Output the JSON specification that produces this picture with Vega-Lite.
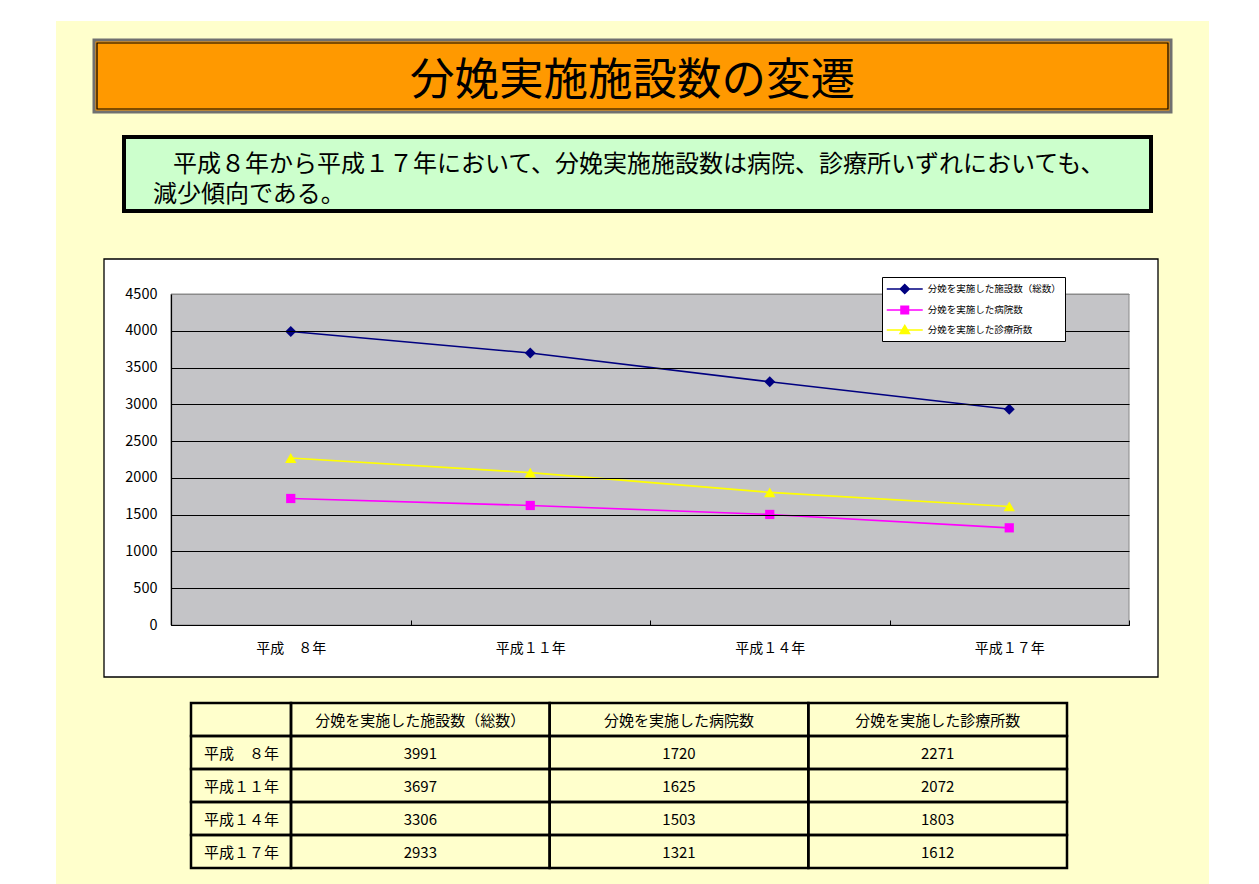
{
  "$schema": "https://vega.github.io/schema/vega-lite/v6.json",
  "width": 1259,
  "height": 884,
  "autosize": {"type": "none"},
  "padding": 0,
  "background": "#FFFFFF",
  "config": {"view": {"stroke": null}, "font": "Noto Sans CJK JP"},
  "datasets": {
    "births": [
      {"年": "平成　８年", "分娩を実施した施設数（総数）": 3991, "分娩を実施した病院数": 1720, "分娩を実施した診療所数": 2271},
      {"年": "平成１１年", "分娩を実施した施設数（総数）": 3697, "分娩を実施した病院数": 1625, "分娩を実施した診療所数": 2072},
      {"年": "平成１４年", "分娩を実施した施設数（総数）": 3306, "分娩を実施した病院数": 1503, "分娩を実施した診療所数": 1803},
      {"年": "平成１７年", "分娩を実施した施設数（総数）": 2933, "分娩を実施した病院数": 1321, "分娩を実施した診療所数": 1612}
    ]
  },
  "resolve": {"scale": {"x": "independent", "y": "independent"}, "axis": {"x": "independent", "y": "independent"}},
  "layer": [
    {
      "data": {"values": [{}]},
      "mark": {"type": "rect", "fill": "#FFFFCC"},
      "encoding": {
        "x": {"datum": 0, "type": "quantitative", "scale": {"domain": [0, 1], "range": [56, 1209], "nice": false, "zero": false}, "axis": null},
        "x2": {"datum": 1},
        "y": {"datum": 0, "type": "quantitative", "scale": {"domain": [0, 1], "range": [21, 884], "nice": false, "zero": false}, "axis": null},
        "y2": {"datum": 1}
      }
    },
    {
      "data": {"values": [{}]},
      "mark": {"type": "rect", "fill": "#FF9900", "stroke": "#707070", "strokeWidth": 3},
      "encoding": {
        "x": {"datum": 0, "type": "quantitative", "scale": {"domain": [0, 1], "range": [94, 1171], "nice": false, "zero": false}, "axis": null},
        "x2": {"datum": 1},
        "y": {"datum": 0, "type": "quantitative", "scale": {"domain": [0, 1], "range": [40, 112], "nice": false, "zero": false}, "axis": null},
        "y2": {"datum": 1}
      }
    },
    {
      "data": {"values": [{}]},
      "mark": {"type": "rect", "fillOpacity": 0, "stroke": "#000000", "strokeWidth": 1.2},
      "encoding": {
        "x": {"datum": 0, "type": "quantitative", "scale": {"domain": [0, 1], "range": [97, 1168], "nice": false, "zero": false}, "axis": null},
        "x2": {"datum": 1},
        "y": {"datum": 0, "type": "quantitative", "scale": {"domain": [0, 1], "range": [43, 109], "nice": false, "zero": false}, "axis": null},
        "y2": {"datum": 1}
      }
    },
    {
      "data": {"values": [{}]},
      "mark": {"type": "text", "text": "分娩実施施設数の変遷", "fontSize": 44.5, "align": "center", "baseline": "middle", "color": "#000000", "dy": 6},
      "encoding": {
        "x": {"datum": 0.5, "type": "quantitative", "scale": {"domain": [0, 1], "range": [93, 1172], "nice": false, "zero": false}, "axis": null},
        "y": {"datum": 0.5, "type": "quantitative", "scale": {"domain": [0, 1], "range": [39, 113], "nice": false, "zero": false}, "axis": null}
      }
    },
    {
      "data": {"values": [{}]},
      "mark": {"type": "rect", "fill": "#CCFFCC", "stroke": "#000000", "strokeWidth": 4},
      "encoding": {
        "x": {"datum": 0, "type": "quantitative", "scale": {"domain": [0, 1], "range": [124, 1151], "nice": false, "zero": false}, "axis": null},
        "x2": {"datum": 1},
        "y": {"datum": 0, "type": "quantitative", "scale": {"domain": [0, 1], "range": [137, 211], "nice": false, "zero": false}, "axis": null},
        "y2": {"datum": 1}
      }
    },
    {
      "data": {"values": [{}]},
      "mark": {"type": "text", "text": "平成８年から平成１７年において、分娩実施施設数は病院、診療所いずれにおいても、", "fontSize": 24, "align": "left", "baseline": "middle", "color": "#000000"},
      "encoding": {
        "x": {"datum": 0, "type": "quantitative", "scale": {"domain": [0, 1], "range": [173, 1151], "nice": false, "zero": false}, "axis": null},
        "y": {"datum": 0, "type": "quantitative", "scale": {"domain": [0, 1], "range": [165, 211], "nice": false, "zero": false}, "axis": null}
      }
    },
    {
      "data": {"values": [{}]},
      "mark": {"type": "text", "text": "減少傾向である。", "fontSize": 24, "align": "left", "baseline": "middle", "color": "#000000"},
      "encoding": {
        "x": {"datum": 0, "type": "quantitative", "scale": {"domain": [0, 1], "range": [153, 1151], "nice": false, "zero": false}, "axis": null},
        "y": {"datum": 0, "type": "quantitative", "scale": {"domain": [0, 1], "range": [195, 211], "nice": false, "zero": false}, "axis": null}
      }
    },
    {
      "data": {"values": [{}]},
      "mark": {"type": "rect", "fill": "#FFFFFF", "stroke": "#000000", "strokeWidth": 1.3},
      "encoding": {
        "x": {"datum": 0, "type": "quantitative", "scale": {"domain": [0, 1], "range": [104, 1158], "nice": false, "zero": false}, "axis": null},
        "x2": {"datum": 1},
        "y": {"datum": 0, "type": "quantitative", "scale": {"domain": [0, 1], "range": [259, 677], "nice": false, "zero": false}, "axis": null},
        "y2": {"datum": 1}
      }
    },
    {
      "data": {"values": [{}]},
      "mark": {"type": "rect", "fill": "#C4C4C7", "stroke": "#8A8A8A", "strokeWidth": 1},
      "encoding": {
        "x": {"datum": 0, "type": "quantitative", "scale": {"domain": [0, 1], "range": [171, 1129], "nice": false, "zero": false}, "axis": null},
        "x2": {"datum": 1},
        "y": {"datum": 0, "type": "quantitative", "scale": {"domain": [0, 1], "range": [294, 625], "nice": false, "zero": false}, "axis": null},
        "y2": {"datum": 1}
      }
    },
    {
      "data": {"name": "births"},
      "transform": [{"fold": ["分娩を実施した施設数（総数）", "分娩を実施した病院数", "分娩を実施した診療所数"], "as": ["系列", "件数"]}],
      "encoding": {
        "x": {
          "field": "年", "type": "nominal",
          "scale": {"type": "band", "domain": ["平成　８年", "平成１１年", "平成１４年", "平成１７年"], "range": [171, 1129], "paddingInner": 0, "paddingOuter": 0},
          "axis": {"orient": "bottom", "offset": -259, "title": null, "domain": true, "domainColor": "#000000", "domainWidth": 1.2, "ticks": true, "tickBand": "extent", "tickSize": -5, "tickColor": "#000000", "tickWidth": 1, "labelFontSize": 14, "labelColor": "#000000", "labelPadding": 21, "labelAngle": 0, "grid": false, "zindex": 1}
        },
        "y": {
          "field": "件数", "type": "quantitative",
          "scale": {"domain": [0, 4500], "range": [625, 294], "nice": false, "zero": true},
          "axis": {"orient": "left", "offset": -171, "title": null, "values": [0, 500, 1000, 1500, 2000, 2500, 3000, 3500, 4000, 4500], "format": "d", "grid": true, "gridColor": {"condition": {"test": "datum.value >= 4500", "value": "#8A8A8A"}, "value": "#000000"}, "gridWidth": 1, "domain": true, "domainColor": "#000000", "domainWidth": 1.2, "ticks": false, "labelPadding": 14, "labelFontSize": 14.5, "labelColor": "#000000", "zindex": 1}
        },
        "color": {
          "field": "系列", "type": "nominal",
          "scale": {"domain": ["分娩を実施した施設数（総数）", "分娩を実施した病院数", "分娩を実施した診療所数"], "range": ["#000080", "#FF00FF", "#FFFF00"]},
          "legend": {"title": null, "orient": "none", "legendX": 882, "legendY": 277, "padding": 4, "fillColor": "#FFFFFF", "strokeColor": "#000000", "labelFontSize": 9.5, "labelColor": "#000000", "labelOffset": 15, "symbolSize": 196, "symbolOffset": 10.75, "symbolStrokeWidth": 1.5, "symbolOpacity": 1, "rowPadding": 5, "zindex": 1}
        }
      },
      "layer": [
        {"mark": {"type": "line", "strokeWidth": 1.6}},
        {
          "mark": {"type": "point", "filled": true, "size": 1, "opacity": 0},
          "encoding": {
            "shape": {
              "field": "系列", "type": "nominal",
              "scale": {"domain": ["分娩を実施した施設数（総数）", "分娩を実施した病院数", "分娩を実施した診療所数"], "range": ["M-2.57,0H2.57M0,-0.64L0.64,0L0,0.64L-0.64,0Z", "M-2.57,0H2.57M-0.54,-0.54H0.54V0.54H-0.54Z", "M-2.57,0H2.57M0,-0.66L0.68,0.5H-0.68Z"]},
              "legend": {"title": null, "orient": "none", "legendX": 882, "legendY": 277, "padding": 4, "fillColor": "#FFFFFF", "strokeColor": "#000000", "labelFontSize": 9.5, "labelColor": "#000000", "labelOffset": 15, "symbolSize": 196, "symbolOffset": 10.75, "symbolStrokeWidth": 1.5, "symbolOpacity": 1, "rowPadding": 5, "zindex": 1}
            }
          }
        },
        {
          "transform": [{"filter": {"field": "系列", "equal": "分娩を実施した施設数（総数）"}}],
          "mark": {"type": "point", "filled": true, "shape": "diamond", "size": 120, "opacity": 1}
        },
        {
          "transform": [{"filter": {"field": "系列", "equal": "分娩を実施した病院数"}}],
          "mark": {"type": "point", "filled": true, "shape": "square", "size": 85, "opacity": 1}
        },
        {
          "transform": [{"filter": {"field": "系列", "equal": "分娩を実施した診療所数"}}],
          "mark": {"type": "point", "filled": true, "shape": "triangle-up", "size": 130, "opacity": 1}
        }
      ]
    },
    {
      "data": {"name": "births"},
      "encoding": {
        "x": {"datum": 0, "type": "quantitative", "scale": {"domain": [0, 1], "range": [191, 291], "nice": false, "zero": false}, "axis": null},
        "y": {"field": "年", "type": "nominal", "scale": {"type": "band", "domain": ["header", "平成　８年", "平成１１年", "平成１４年", "平成１７年"], "range": [703, 868], "paddingInner": 0, "paddingOuter": 0}, "axis": null}
      },
      "layer": [
        {"mark": {"type": "rect", "fillOpacity": 0, "stroke": "#000000", "strokeWidth": 2.5}, "encoding": {"x2": {"datum": 1}}},
        {"mark": {"type": "text", "align": "left", "baseline": "middle", "fontSize": 15, "color": "#000000", "dy": 1}, "encoding": {"x": {"datum": 0.13, "type": "quantitative"}, "text": {"field": "年", "type": "nominal"}}},
        {"data": {"values": [{}]}, "mark": {"type": "rect", "fillOpacity": 0, "stroke": "#000000", "strokeWidth": 2.5}, "encoding": {"y": {"datum": "header", "type": "nominal"}, "x2": {"datum": 1}}}
      ]
    },
    {
      "data": {"name": "births"},
      "transform": [{"fold": ["分娩を実施した施設数（総数）", "分娩を実施した病院数", "分娩を実施した診療所数"], "as": ["系列", "件数"]}],
      "encoding": {
        "x": {"field": "系列", "type": "nominal", "scale": {"type": "band", "domain": ["分娩を実施した施設数（総数）", "分娩を実施した病院数", "分娩を実施した診療所数"], "range": [291, 1067], "paddingInner": 0, "paddingOuter": 0}, "axis": null},
        "y": {"field": "年", "type": "nominal", "scale": {"type": "band", "domain": ["header", "平成　８年", "平成１１年", "平成１４年", "平成１７年"], "range": [703, 868], "paddingInner": 0, "paddingOuter": 0}, "axis": null}
      },
      "layer": [
        {"mark": {"type": "rect", "fillOpacity": 0, "stroke": "#000000", "strokeWidth": 2.5}},
        {"mark": {"type": "text", "align": "center", "baseline": "middle", "fontSize": 15, "color": "#000000", "dy": 1}, "encoding": {"text": {"field": "件数", "type": "quantitative", "format": "d"}}},
        {
          "transform": [{"aggregate": [{"op": "count", "as": "n"}], "groupby": ["系列"]}],
          "mark": {"type": "rect", "fillOpacity": 0, "stroke": "#000000", "strokeWidth": 2.5},
          "encoding": {"y": {"datum": "header", "type": "nominal"}}
        },
        {
          "transform": [{"aggregate": [{"op": "count", "as": "n"}], "groupby": ["系列"]}],
          "mark": {"type": "text", "align": "center", "baseline": "middle", "fontSize": 15, "color": "#000000", "dy": 1},
          "encoding": {"y": {"datum": "header", "type": "nominal"}, "text": {"field": "系列", "type": "nominal"}}
        }
      ]
    }
  ]
}
